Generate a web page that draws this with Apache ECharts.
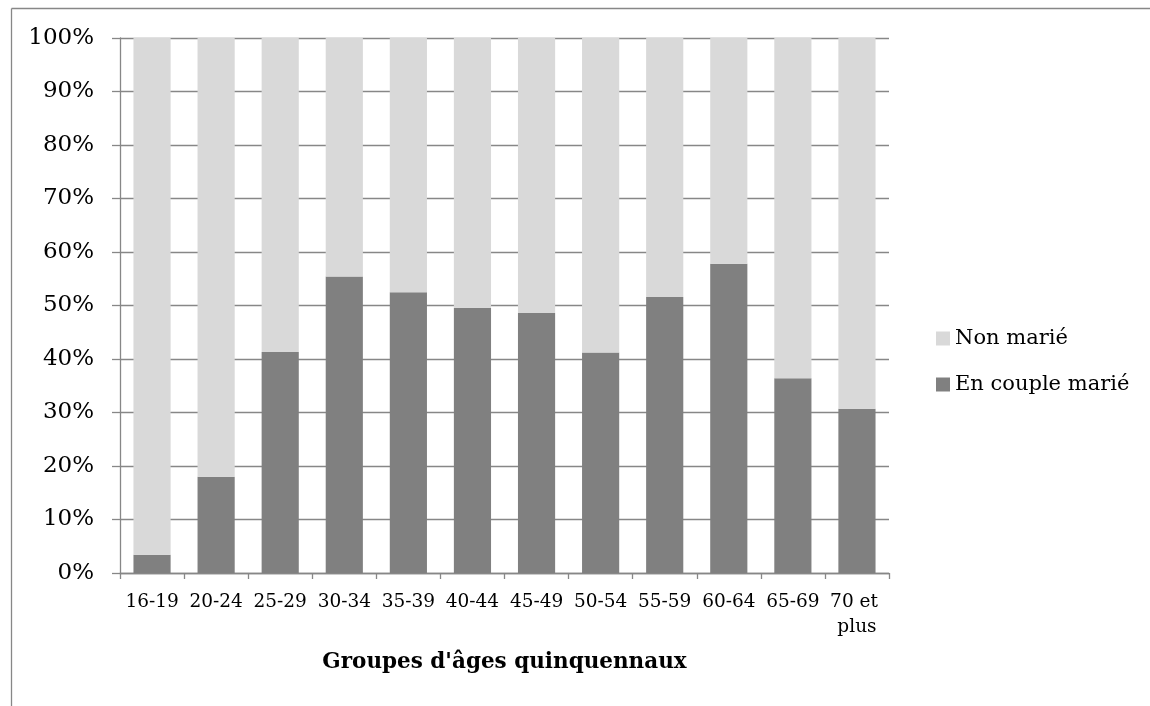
<!DOCTYPE html>
<html>
<head>
<meta charset="utf-8">
<title>Groupes d'âges quinquennaux</title>
<script src="https://cdn.jsdelivr.net/npm/echarts@6/dist/echarts.min.js"></script>
<style>
  html, body { margin: 0; padding: 0; background: #ffffff; }
  #chart { width: 1150px; height: 706px; }
</style>
</head>
<body>
<div id="chart"></div>
<script>
// Age groups (five-year bands)
const ageGroups = ['16-19', '20-24', '25-29', '30-34', '35-39', '40-44', '45-49', '50-54', '55-59', '60-64', '65-69', '70 et plus'];
// Share (%) in a married couple
const enCoupleMarie = [3.4, 18.0, 41.3, 55.4, 52.5, 49.6, 48.6, 41.2, 51.6, 57.8, 36.4, 30.7];
// Share (%) not married
const nonMarie = [96.6, 82.0, 58.7, 44.6, 47.5, 50.4, 51.4, 58.8, 48.4, 42.2, 63.6, 69.3];
// Percent axis ticks
const yTicks = { min: 0, max: 100, step: 10 };

const FONT = 'DejaVu Serif';
const GRAY_LINE = '#878787';

const chart = echarts.init(document.getElementById('chart'), null, { renderer: 'canvas' });

chart.setOption({
  backgroundColor: '#ffffff',
  animation: false,
  textStyle: { fontFamily: FONT, color: '#000' },
  grid: { left: 120, right: 261, top: 38, bottom: 133, containLabel: false },
  graphic: [
    // chart frame edges
    { type: 'line', shape: { x1: 11.5, y1: 8.5, x2: 1150, y2: 8.5 }, style: { stroke: GRAY_LINE, lineWidth: 1.3 } },
    { type: 'line', shape: { x1: 11.5, y1: 8.5, x2: 11.5, y2: 706 }, style: { stroke: GRAY_LINE, lineWidth: 1.3 } }
  ],
  legend: {
    orient: 'vertical',
    left: 931,
    top: 323,
    itemWidth: 14,
    itemHeight: 14,
    itemGap: 25,
    icon: 'rect',
    data: ['Non marié', 'En couple marié'],
    textStyle: { fontFamily: FONT, fontSize: 21, color: '#000', padding: [0, 0, 0, 0] }
  },
  xAxis: {
    type: 'category',
    data: ageGroups,
    name: "Groupes d'âges quinquennaux",
    nameLocation: 'middle',
    nameGap: 78,
    nameTextStyle: { fontFamily: FONT, fontSize: 21.5, fontWeight: 'bold', color: '#000' },
    axisLine: { show: true, lineStyle: { color: GRAY_LINE, width: 1.3 } },
    axisTick: { show: true, length: 6, lineStyle: { color: GRAY_LINE, width: 1.3 } },
    axisLabel: {
      interval: 0,
      margin: 17,
      fontFamily: FONT,
      fontSize: 18.5,
      lineHeight: 25,
      color: '#000',
      width: 60,
      overflow: 'break'
    },
    splitLine: { show: false }
  },
  yAxis: {
    type: 'value',
    min: yTicks.min,
    max: yTicks.max,
    interval: yTicks.step,
    axisLine: { show: true, lineStyle: { color: GRAY_LINE, width: 1.3 } },
    axisTick: { show: true, length: 8, lineStyle: { color: GRAY_LINE, width: 1.3 } },
    axisLabel: {
      formatter: '{value}%',
      margin: 26,
      fontFamily: FONT,
      fontSize: 23,
      color: '#000'
    },
    splitLine: { show: true, lineStyle: { color: GRAY_LINE, width: 1.3 } }
  },
  series: [
    {
      name: 'En couple marié',
      type: 'bar',
      stack: 'total',
      data: enCoupleMarie,
      barCategoryGap: '42%',
      itemStyle: { color: '#808080' }
    },
    {
      name: 'Non marié',
      type: 'bar',
      stack: 'total',
      data: nonMarie,
      barCategoryGap: '42%',
      itemStyle: { color: '#d9d9d9' }
    }
  ]
});
</script>
</body>
</html>
